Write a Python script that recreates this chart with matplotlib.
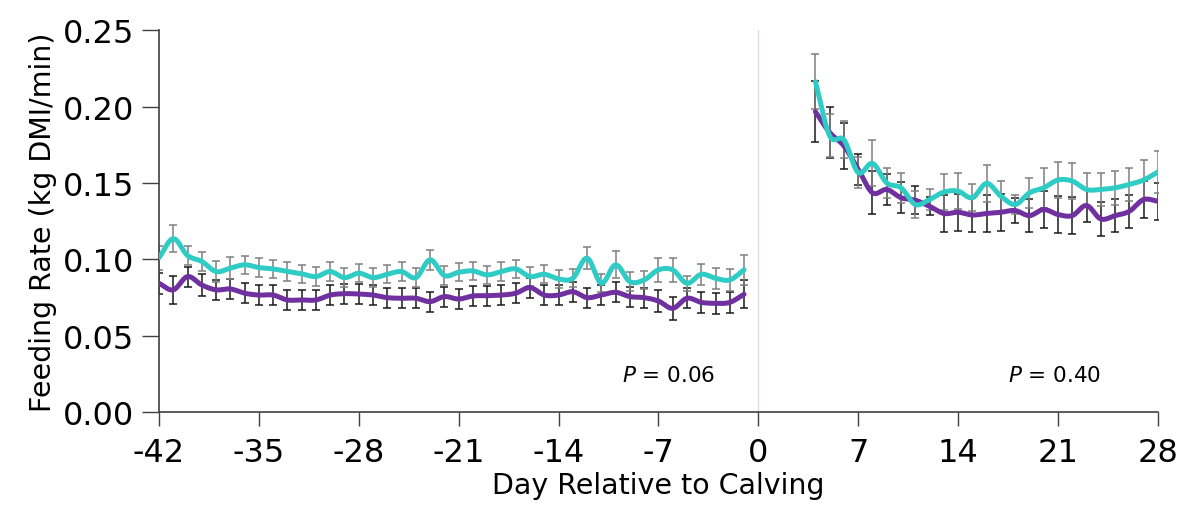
import numpy as np
import matplotlib.pyplot as plt

# days relative to calving
days_pre = list(range(-42, 0))
days_post = list(range(4, 29))

teal_pre = [0.101, 0.1135, 0.1025, 0.0986, 0.092, 0.0942, 0.0964, 0.0946, 0.0937, 0.092,
            0.0905, 0.0887, 0.092, 0.088, 0.0909, 0.088, 0.0902, 0.092, 0.088, 0.0997,
            0.0894, 0.0915, 0.0924, 0.0898, 0.092, 0.0937, 0.0887, 0.0902, 0.0872, 0.0876,
            0.1008, 0.0843, 0.0964, 0.0854, 0.0865, 0.0931, 0.0931, 0.0843, 0.0902, 0.0876,
            0.0865, 0.0931]
teal_pre_err = [0.008, 0.009, 0.0065, 0.006, 0.007, 0.007, 0.006, 0.006, 0.006, 0.006,
                0.006, 0.006, 0.006, 0.006, 0.006, 0.006, 0.006, 0.006, 0.006, 0.0065,
                0.006, 0.006, 0.006, 0.006, 0.006, 0.006, 0.006, 0.006, 0.006, 0.006,
                0.007, 0.006, 0.0088, 0.006, 0.006, 0.0077, 0.008, 0.005, 0.007, 0.007,
                0.007, 0.0099]
purple_pre = [0.0843, 0.080, 0.0887, 0.0832, 0.080, 0.0806, 0.0778, 0.0766, 0.0766, 0.0734,
              0.0734, 0.0734, 0.0766, 0.0775, 0.0773, 0.0766, 0.0749, 0.0745, 0.0745, 0.0723,
              0.0756, 0.074, 0.076, 0.0762, 0.0766, 0.0778, 0.0815, 0.0766, 0.0766, 0.0788,
              0.0749, 0.0766, 0.0784, 0.0756, 0.0749, 0.0727, 0.0679, 0.0745, 0.0718, 0.0712,
              0.0718, 0.0771]
purple_pre_err = [0.007, 0.009, 0.0065, 0.0074, 0.0066, 0.0066, 0.0064, 0.0065, 0.0065, 0.0065,
                  0.0065, 0.0065, 0.0065, 0.0065, 0.0065, 0.0065, 0.0065, 0.0065, 0.0065, 0.0065,
                  0.0065, 0.0065, 0.0065, 0.0065, 0.0065, 0.0065, 0.0065, 0.0065, 0.0065, 0.0065,
                  0.0065, 0.0065, 0.0065, 0.0065, 0.0065, 0.007, 0.0077, 0.0065, 0.007, 0.007,
                  0.007, 0.0092]

teal_post = [0.2163, 0.1808, 0.1782, 0.1567, 0.1628, 0.150, 0.1468, 0.1359, 0.1391, 0.144,
             0.1446, 0.1403, 0.1497, 0.1413, 0.1359, 0.1435, 0.1468, 0.1519, 0.1512, 0.1457,
             0.1457, 0.1468, 0.149, 0.1519, 0.1571]
teal_post_err = [0.018, 0.014, 0.012, 0.010, 0.015, 0.010, 0.010, 0.009, 0.007, 0.012,
                 0.012, 0.009, 0.012, 0.010, 0.006, 0.010, 0.013, 0.012, 0.012, 0.011,
                 0.011, 0.011, 0.011, 0.013, 0.014]
purple_post = [0.1966, 0.183, 0.1742, 0.1589, 0.1435, 0.1457, 0.1403, 0.1387, 0.1347, 0.130,
               0.1308, 0.129, 0.130, 0.1308, 0.1319, 0.1286, 0.1326, 0.1293, 0.1286, 0.1352,
               0.1264, 0.1286, 0.1314, 0.1391, 0.138]
purple_post_err = [0.020, 0.017, 0.015, 0.010, 0.014, 0.010, 0.010, 0.009, 0.006, 0.012,
                   0.012, 0.011, 0.012, 0.012, 0.008, 0.011, 0.012, 0.012, 0.012, 0.011,
                   0.011, 0.011, 0.011, 0.012, 0.012]

x_ticks = list(range(-42, 29, 7))
p_labels = [(-3, '$\\it{P}$ = 0.06'), (24, '$\\it{P}$ = 0.40')]

TEAL = '#2ECCC4'
PURPLE = '#7030A0'


def smooth(x, y, n=12):
    # Catmull-Rom style smoothing, like a spreadsheet "smoothed line"
    x = np.asarray(x, float)
    y = np.asarray(y, float)
    px = np.concatenate([[2 * x[0] - x[1]], x, [2 * x[-1] - x[-2]]])
    py = np.concatenate([[2 * y[0] - y[1]], y, [2 * y[-1] - y[-2]]])
    xs, ys = [], []
    t = np.linspace(0, 1, n, endpoint=False)
    for i in range(1, len(px) - 2):
        for arr, out in ((px, xs), (py, ys)):
            p0, p1, p2, p3 = arr[i - 1], arr[i], arr[i + 1], arr[i + 2]
            out.extend(0.5 * ((2 * p1) + (-p0 + p2) * t + (2 * p0 - 5 * p1 + 4 * p2 - p3) * t ** 2
                              + (-p0 + 3 * p1 - 3 * p2 + p3) * t ** 3))
    xs.append(x[-1])
    ys.append(y[-1])
    return xs, ys


plt.rcParams['font.family'] = ['DejaVu Sans']

fig = plt.figure(figsize=(11.9, 5.1), dpi=100)
ax = fig.add_axes([0.1336, 0.19, 0.8394, 0.749])

ax.axvline(0, color='#DCDCE6', lw=1, zorder=0)

for days, vals, err in ((days_pre, purple_pre, purple_pre_err), (days_post, purple_post, purple_post_err)):
    ax.errorbar(days, vals, yerr=err, fmt='none', ecolor='#1a1a1a', elinewidth=1.1,
                capsize=3, capthick=1.1, zorder=2)
for days, vals, err in ((days_pre, teal_pre, teal_pre_err), (days_post, teal_post, teal_post_err)):
    ax.errorbar(days, vals, yerr=err, fmt='none', ecolor='#7f7f7f', elinewidth=1.1,
                capsize=3, capthick=1.1, zorder=2)

for days, vals in ((days_pre, purple_pre), (days_post, purple_post)):
    sx, sy = smooth(days, vals)
    ax.plot(sx, sy, color=PURPLE, lw=3.6, solid_capstyle='round', zorder=3)
for days, vals in ((days_pre, teal_pre), (days_post, teal_post)):
    sx, sy = smooth(days, vals)
    ax.plot(sx, sy, color=TEAL, lw=3.6, solid_capstyle='round', zorder=4)

for xp, txt in p_labels:
    ax.text(xp, 0.0245, txt, ha='right', va='center', fontsize=15.5)

ax.set_xlim(-42, 28)
ax.set_ylim(0, 0.25)
ax.set_xticks(x_ticks)
ax.set_xticklabels([str(t) for t in x_ticks])
ax.set_yticks(np.arange(0, 0.2501, 0.05))
ax.set_yticklabels(['%.2f' % v for v in np.arange(0, 0.2501, 0.05)])
ax.tick_params(axis='both', labelsize=23, direction='out', width=1, color='#404040')
ax.tick_params(axis='y', length=12, pad=6)
ax.tick_params(axis='x', length=10, pad=8)
for side in ('top', 'right'):
    ax.spines[side].set_visible(False)
for side in ('left', 'bottom'):
    ax.spines[side].set_color('#404040')
    ax.spines[side].set_linewidth(1.2)

ax.set_xlabel('Day Relative to Calving', fontsize=20.5, labelpad=2)
ax.set_ylabel('Feeding Rate (kg DMI/min)', fontsize=20.5, labelpad=4)

fig.savefig('out.png', dpi=100)
